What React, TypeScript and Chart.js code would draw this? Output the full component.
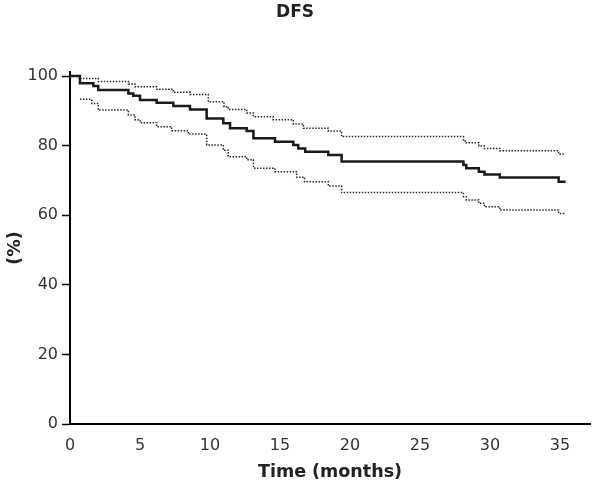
import React, { useEffect, useRef } from "react";
import { Chart, registerables } from "chart.js";

Chart.register(...registerables);

const titleText = "DFS";
const xTitle = "Time (months)";
const yTitle = "(%)";
const xTicks = [0, 5, 10, 15, 20, 25, 30, 35];
const yTicks = [0, 20, 40, 60, 80, 100];

const survTimes = [0, 0.71, 1.67, 2.02, 4.17, 4.52, 5.0, 6.19, 7.38, 8.57, 9.76, 10.95, 11.43, 12.62, 13.1, 14.64, 15.95, 16.3, 16.8, 18.45, 19.4, 28.1, 28.3, 29.2, 29.6, 30.7, 34.9, 35.4];
const survValues = [100, 97.9, 97.1, 96.0, 95.0, 94.3, 93.1, 92.3, 91.4, 90.4, 87.8, 86.4, 85.0, 84.2, 82.1, 81.1, 80.2, 79.2, 78.2, 77.3, 75.4, 74.4, 73.5, 72.5, 71.7, 70.8, 69.6, 69.6];

const upperTimes = [0.71, 2.02, 4.17, 4.64, 6.19, 7.38, 8.57, 9.88, 11.0, 11.3, 12.62, 13.1, 14.5, 15.95, 16.67, 18.45, 19.4, 28.1, 28.3, 29.2, 29.6, 30.7, 34.9, 35.4];
const upperValues = [99.3, 98.4, 97.7, 96.9, 96.2, 95.3, 94.7, 92.6, 91.2, 90.4, 89.4, 88.3, 87.4, 86.2, 85.0, 84.2, 82.6, 81.3, 80.8, 79.9, 79.2, 78.5, 77.6, 77.6];

const lowerTimes = [0.71, 1.55, 2.02, 4.17, 4.64, 5.0, 6.19, 7.26, 8.45, 9.76, 10.95, 11.3, 12.62, 13.1, 14.64, 16.19, 16.75, 18.45, 19.4, 28.1, 28.3, 29.2, 29.6, 30.7, 34.9, 35.4];
const lowerValues = [93.3, 92.1, 90.2, 88.8, 87.4, 86.6, 85.4, 84.3, 83.3, 80.2, 78.7, 76.8, 75.9, 73.5, 72.5, 70.9, 69.6, 68.4, 66.5, 65.3, 64.4, 63.4, 62.4, 61.5, 60.5, 60.5];

const toPoints = (t: number[], v: number[]) => t.map((x, i) => ({ x, y: v[i] }));

export default function App() {
  const ref = useRef<HTMLCanvasElement | null>(null);

  useEffect(() => {
    document.body.style.margin = "0";
    const canvas = ref.current;
    if (!canvas) return;
    const font = "'DejaVu Sans', Verdana, sans-serif";
    const chart = new Chart(canvas, {
      type: "line",
      data: {
        datasets: [
          {
            label: "DFS",
            data: toPoints(survTimes, survValues),
            stepped: true,
            borderColor: "#1a1a1a",
            borderWidth: 2.5,
            pointRadius: 0,
            fill: false,
          },
          {
            label: "Upper 95% CI",
            data: toPoints(upperTimes, upperValues),
            stepped: true,
            borderColor: "#2a2a2a",
            borderWidth: 1.5,
            borderDash: [1.5, 1.5],
            pointRadius: 0,
            fill: false,
          },
          {
            label: "Lower 95% CI",
            data: toPoints(lowerTimes, lowerValues),
            stepped: true,
            borderColor: "#2a2a2a",
            borderWidth: 1.5,
            borderDash: [1.5, 1.5],
            pointRadius: 0,
            fill: false,
          },
        ],
      },
      options: {
        animation: false,
        responsive: false,
        maintainAspectRatio: false,
        layout: { padding: { left: 0, right: 7, top: 0, bottom: 0 } },
        plugins: {
          legend: { display: false },
          tooltip: { enabled: false },
          title: {
            display: true,
            text: titleText,
            color: "#222",
            font: { family: font, size: 17, weight: "bold" },
            padding: { top: 2, bottom: 49.6 },
          },
        },
        scales: {
          x: {
            type: "linear",
            min: 0,
            max: 37.14,
            afterBuildTicks: (scale: any) => {
              scale.ticks = xTicks.map((value) => ({ value }));
            },
            afterFit: (scale: any) => {
              scale.height = 62;
            },
            grid: { display: true, drawOnChartArea: false, drawTicks: false },
            border: { display: true, color: "#000", width: 2 },
            ticks: {
              color: "#333",
              padding: 12,
              font: { family: font, size: 16 },
              maxRotation: 0,
            },
            title: {
              display: true,
              text: xTitle,
              color: "#222",
              font: { family: font, size: 17.5, weight: "bold" },
              padding: { top: 0, bottom: 3 },
            },
          },
          y: {
            type: "linear",
            min: 0,
            max: 101.15,
            afterBuildTicks: (scale: any) => {
              scale.ticks = yTicks.map((value) => ({ value }));
            },
            afterFit: (scale: any) => {
              scale.width = 70;
            },
            grid: {
              display: true,
              drawOnChartArea: false,
              drawTicks: true,
              tickLength: 8,
              tickColor: "#000",
              tickWidth: 1.5,
            },
            border: { display: true, color: "#000", width: 2 },
            ticks: {
              color: "#333",
              padding: 4,
              font: { family: font, size: 16 },
            },
            title: {
              display: true,
              text: yTitle,
              color: "#222",
              font: { family: font, size: 17.5, weight: "bold" },
              padding: { top: 5, bottom: 0 },
            },
          },
        },
      },
    });
    return () => chart.destroy();
  }, []);

  return (
    <div style={{ width: 597, height: 486 }}>
      <canvas ref={ref} width={597} height={486} style={{ display: "block", width: 597, height: 486 }} />
    </div>
  );
}
